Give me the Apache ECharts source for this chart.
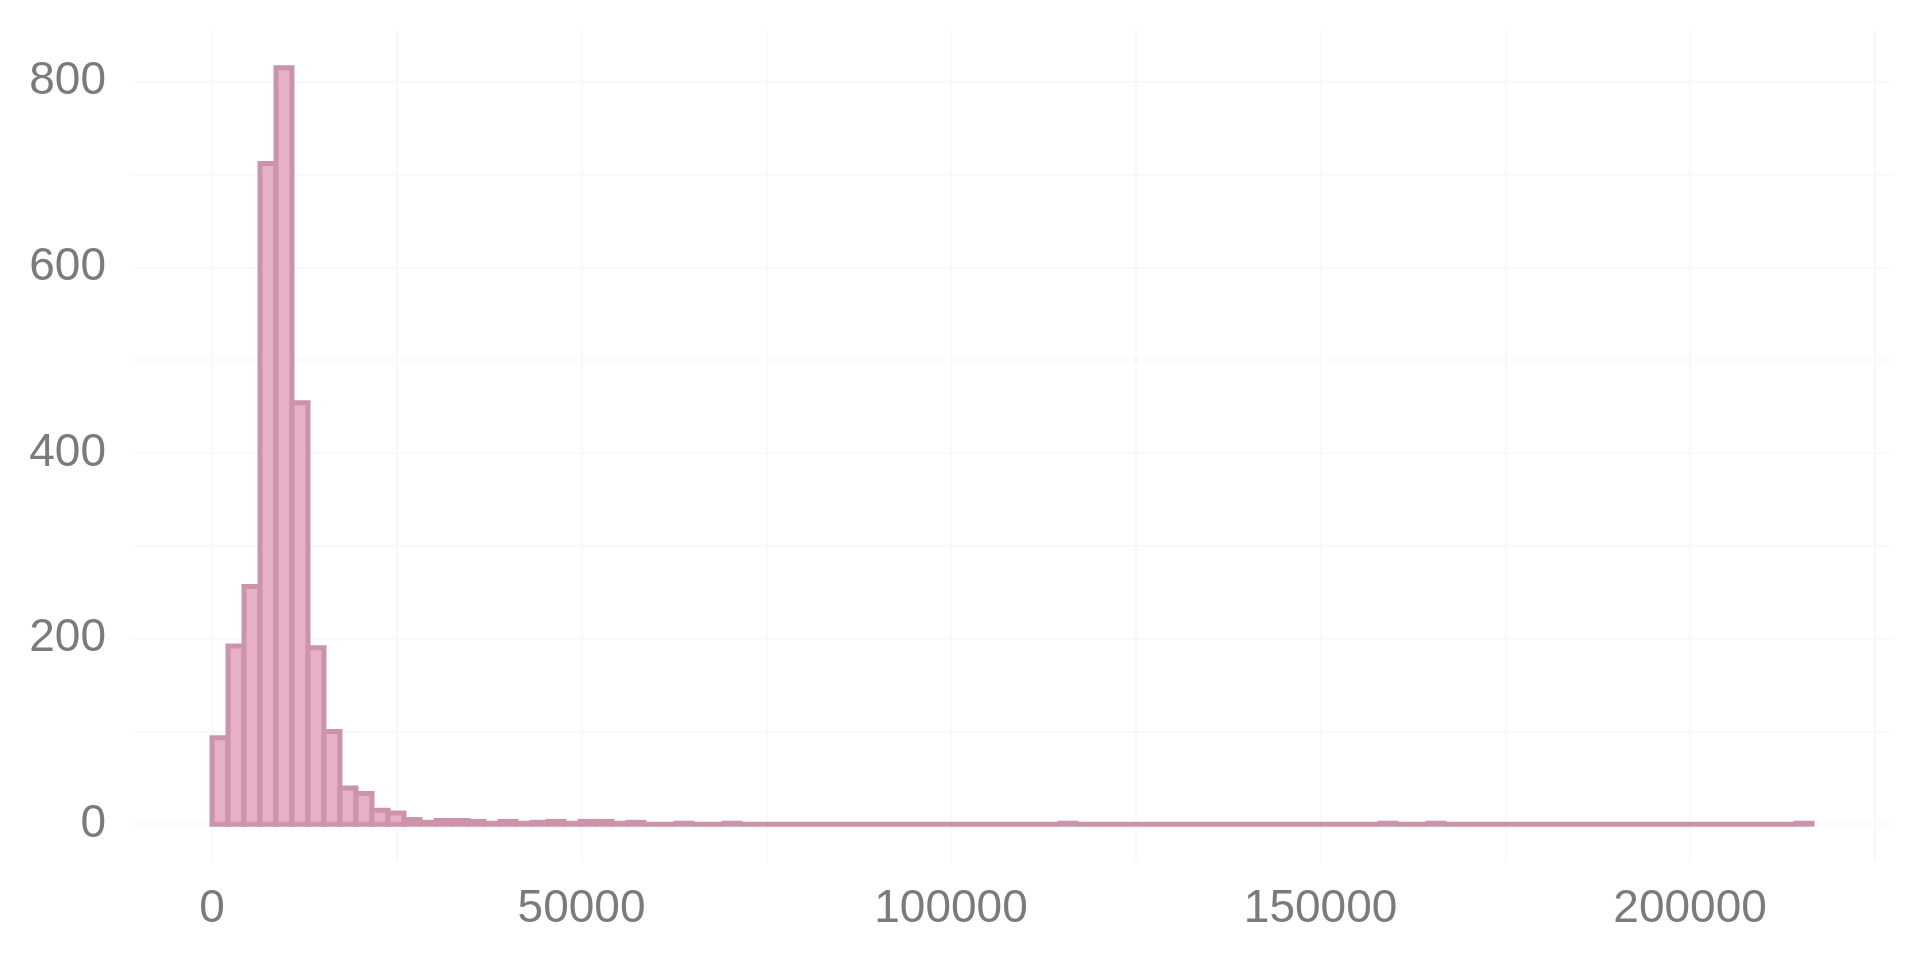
<!DOCTYPE html>
<html>
<head>
<meta charset="utf-8">
<script src="https://cdn.jsdelivr.net/npm/echarts@6/dist/echarts.min.js"></script>
<style>
  html, body { margin: 0; padding: 0; background: #ffffff; }
  #chart { width: 1920px; height: 960px; }
</style>
</head>
<body>
<div id="chart"></div>
<script>
// Histogram: 100 bins starting at 0
const binStart = 0;
const binWidth = 2165;
const counts = [
  93, 192, 256, 712, 815, 454, 190, 100, 39, 33,
  15, 12, 5, 2, 4, 4, 3, 1, 3, 1,
  2, 3, 1, 3, 3, 1, 2, 0, 0, 1,
  0, 0, 1, 0, 0, 0, 0, 0, 0, 0,
  0, 0, 0, 0, 0, 0, 0, 0, 0, 0,
  0, 0, 0, 1, 0, 0, 0, 0, 0, 0,
  0, 0, 0, 0, 0, 0, 0, 0, 0, 0,
  0, 0, 0, 1, 0, 0, 1, 0, 0, 0,
  0, 0, 0, 0, 0, 0, 0, 0, 0, 0,
  0, 0, 0, 0, 0, 0, 0, 0, 0, 1
];
const xTickLabels = [0, 50000, 100000, 150000, 200000];
const yTickLabels = [0, 200, 400, 600, 800];

const bins = counts.map((c, i) => [binStart + i * binWidth, binStart + (i + 1) * binWidth, c]);

const xMin = -10825, xMax = 227325;
const yMin = -40.75, yMax = 855.75;

const chart = echarts.init(document.getElementById('chart'), null, { renderer: 'canvas' });
const gridColor = '#f7f7f7';
const labelColor = '#7b7b7b';
const labelFont = 'Liberation Sans, Arial, Helvetica, sans-serif';

chart.setOption({
  backgroundColor: '#ffffff',
  animation: false,
  grid: { left: 132, right: 28, top: 30, bottom: 98, containLabel: false },
  xAxis: {
    type: 'value',
    min: xMin, max: xMax,
    minInterval: 25000, maxInterval: 25000, splitNumber: 9,
    axisLine: { show: false },
    axisTick: { show: false },
    splitLine: { show: true, showMinLine: false, showMaxLine: false, lineStyle: { color: gridColor, width: 1.5 } },
    axisLabel: {
      show: true, showMinLabel: false, showMaxLabel: false,
      color: labelColor, fontSize: 46, fontFamily: labelFont, margin: 24,
      formatter: v => (xTickLabels.indexOf(v) >= 0 ? String(v) : '')
    }
  },
  yAxis: {
    type: 'value',
    min: yMin, max: yMax,
    minInterval: 100, maxInterval: 100, splitNumber: 9,
    axisLine: { show: false },
    axisTick: { show: false },
    splitLine: { show: true, showMinLine: false, showMaxLine: false, lineStyle: { color: gridColor, width: 1.5 } },
    axisLabel: {
      show: true, showMinLabel: false, showMaxLabel: false,
      color: labelColor, fontSize: 46, fontFamily: labelFont, margin: 26,
      formatter: v => (yTickLabels.indexOf(v) >= 0 ? String(v) : '')
    }
  },
  series: [{
    type: 'custom',
    data: bins,
    encode: { x: [0, 1], y: 2 },
    clip: false,
    renderItem: function (params, api) {
      const p0 = api.coord([api.value(0), api.value(2)]);
      const p1 = api.coord([api.value(1), 0]);
      return {
        type: 'rect',
        shape: { x: p0[0], y: p0[1], width: p1[0] - p0[0], height: p1[1] - p0[1] },
        style: { fill: '#e7b0c7', stroke: '#cb94aa', lineWidth: 5 }
      };
    }
  }]
});
</script>
</body>
</html>
